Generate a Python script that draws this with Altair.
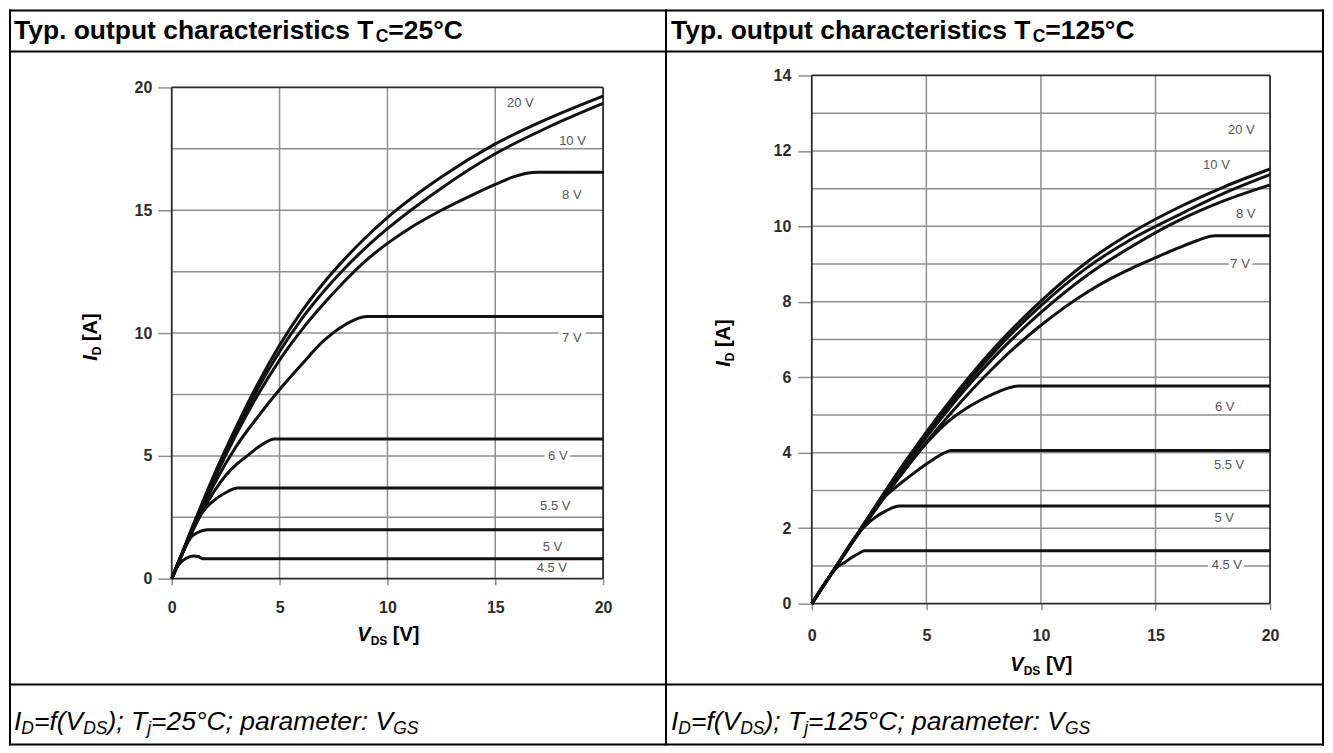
import altair as alt
import pandas as pd

FONT = "Liberation Sans"
INK = "#111111"
GRID = "#8e8e8e"
FRAME = "#2a2a2a"
TICKLAB = "#2b2b2b"
LABEL = "#555555"

# ---------------- data: T = 25 °C (V_DS [V], I_D [A]) ----------------
T25_20V_VDS = [0, 1, 2, 3, 4, 5, 6, 7, 8, 9, 10, 12.5, 15, 17.5, 20]
T25_20V_ID = [0, 2.2, 4.3, 6.2, 7.95, 9.5, 10.85, 12.0, 13.0, 13.9, 14.7, 16.35, 17.7, 18.75, 19.65]
T25_10V_VDS = [0, 1, 2, 3, 4, 5, 6, 7, 8, 9, 10, 12.5, 15, 17.5, 20]
T25_10V_ID = [0, 2.15, 4.2, 6.05, 7.75, 9.25, 10.55, 11.65, 12.62, 13.48, 14.25, 15.9, 17.3, 18.4, 19.35]
T25_8V_VDS = [0, 1, 2, 3, 4, 5, 6, 7, 8, 9, 10, 11, 12.5, 14, 15, 15.8, 16.4, 17, 20]
T25_8V_ID = [0, 2.1, 4.1, 5.9, 7.5, 8.9, 10.1, 11.15, 12.1, 12.95, 13.65, 14.25, 15.0, 15.65,
             16.05, 16.35, 16.5, 16.55, 16.55]
T25_7V_VDS = [0, 1, 2, 3, 4, 5, 6, 7, 7.5, 8, 8.5, 9.05, 20]
T25_7V_ID = [0, 2.05, 3.9, 5.4, 6.6, 7.7, 8.7, 9.65, 10.02, 10.32, 10.55, 10.67, 10.67]
T25_6V_VDS = [0, 1, 2, 2.5, 3, 3.5, 4, 4.4, 4.73, 20]
T25_6V_ID = [0, 2.0, 3.6, 4.2, 4.65, 5.0, 5.35, 5.57, 5.69, 5.69]
T25_55V_VDS = [0, 0.8, 1.2, 1.6, 2.1, 2.6, 3.04, 20]
T25_55V_ID = [0, 1.65, 2.4, 2.9, 3.28, 3.55, 3.69, 3.69]
T25_5V_VDS = [0, 0.6, 0.9, 1.2, 1.65, 20]
T25_5V_ID = [0, 1.25, 1.7, 1.88, 1.99, 1.99]
T25_45V_VDS = [0, 0.35, 0.65, 1.0, 1.25, 1.42, 20]
T25_45V_ID = [0, 0.6, 0.82, 0.92, 0.9, 0.81, 0.81]

T25_LABELS = ["20 V", "10 V", "8 V", "7 V", "6 V", "5.5 V", "5 V", "4.5 V"]
T25_LABEL_X = [16.16, 18.58, 18.55, 18.55, 17.9, 17.78, 17.65, 17.62]
T25_LABEL_Y = [19.36, 17.83, 15.64, 9.81, 5.0, 2.94, 1.31, 0.43]
T25_LABEL_ON_GRID = [False, False, False, True, True, False, False, False]

# ---------------- data: T = 125 °C ----------------
T125_20V_VDS = [0, 2, 4, 6, 8, 10, 12, 14, 16, 18, 20]
T125_20V_ID = [0, 1.86, 3.7, 5.35, 6.8, 8.02, 9.05, 9.85, 10.5, 11.05, 11.52]
T125_10V_VDS = [0, 2, 4, 6, 8, 10, 12, 14, 16, 18, 20]
T125_10V_ID = [0, 1.85, 3.66, 5.28, 6.7, 7.9, 8.9, 9.68, 10.3, 10.88, 11.37]
T125_8V_VDS = [0, 2, 4, 6, 8, 10, 12, 14, 16, 18, 20]
T125_8V_ID = [0, 1.84, 3.6, 5.18, 6.56, 7.72, 8.7, 9.48, 10.15, 10.68, 11.1]
T125_7V_VDS = [0, 2, 4, 6, 8, 10, 12, 13, 14, 15, 16, 16.8, 17.6, 20]
T125_7V_ID = [0, 1.82, 3.5, 5.0, 6.3, 7.38, 8.25, 8.6, 8.9, 9.17, 9.43, 9.62, 9.75, 9.75]
T125_6V_VDS = [0, 2, 4, 5, 6, 7, 8, 8.6, 9.05, 20]
T125_6V_ID = [0, 1.82, 3.5, 4.25, 4.85, 5.27, 5.58, 5.72, 5.77, 5.77]
T125_55V_VDS = [0, 1, 2, 3, 3.5, 4, 4.5, 5, 5.5, 5.8, 6.08, 20]
T125_55V_ID = [0, 0.93, 1.84, 2.72, 3.0, 3.25, 3.48, 3.7, 3.9, 4.0, 4.06, 4.06]
T125_5V_VDS = [0, 1, 2, 2.4, 2.8, 3.24, 3.5, 3.82, 20]
T125_5V_ID = [0, 0.93, 1.85, 2.1, 2.3, 2.46, 2.54, 2.59, 2.59]
T125_45V_VDS = [0, 0.8, 1.1, 1.45, 1.79, 2.05, 2.3, 20]
T125_45V_ID = [0, 0.74, 0.96, 1.1, 1.24, 1.33, 1.4, 1.4]

T125_LABELS = ["20 V", "10 V", "8 V", "7 V", "6 V", "5.5 V", "5 V", "4.5 V"]
T125_LABEL_X = [18.75, 17.66, 18.94, 18.69, 18.02, 18.21, 18.0, 18.11]
T125_LABEL_Y = [12.56, 11.63, 10.34, 9.01, 5.2, 3.67, 2.26, 1.02]
T125_LABEL_ON_GRID = [False, False, False, True, False, False, False, True]

X_TICKS = [0, 5, 10, 15, 20]
T25_Y_TICKS = [0, 5, 10, 15, 20]
T125_Y_TICKS = [0, 2, 4, 6, 8, 10, 12, 14]
T25_HGRID = [2.5, 5, 7.5, 10, 12.5, 15, 17.5]
T125_HGRID = [1, 2, 3, 4, 5, 6, 7, 8, 9, 10, 11, 12, 13]
VGRID = [5, 10, 15]

TITLE_25 = [("Typ. output characteristics T", 0), ("C", 1), ("=25°C", 0)]
TITLE_125 = [("Typ. output characteristics T", 0), ("C", 1), ("=125°C", 0)]
CAPTION_25 = [("I", 0), ("D", 1), ("=f(V", 0), ("DS", 1), ("); T", 0), ("j", 1),
              ("=25°C; parameter: V", 0), ("GS", 1)]
CAPTION_125 = [("I", 0), ("D", 1), ("=f(V", 0), ("DS", 1), ("); T", 0), ("j", 1),
               ("=125°C; parameter: V", 0), ("GS", 1)]


def curves_df(series):
    rows = []
    for name, xs, ys in series:
        for i, (a, b) in enumerate(zip(xs, ys)):
            rows.append({"v": name, "i": i, "vds": a, "id": b})
    return pd.DataFrame(rows)


C25 = curves_df([
    ("20 V", T25_20V_VDS, T25_20V_ID), ("10 V", T25_10V_VDS, T25_10V_ID),
    ("8 V", T25_8V_VDS, T25_8V_ID), ("7 V", T25_7V_VDS, T25_7V_ID),
    ("6 V", T25_6V_VDS, T25_6V_ID), ("5.5 V", T25_55V_VDS, T25_55V_ID),
    ("5 V", T25_5V_VDS, T25_5V_ID), ("4.5 V", T25_45V_VDS, T25_45V_ID)])
C125 = curves_df([
    ("20 V", T125_20V_VDS, T125_20V_ID), ("10 V", T125_10V_VDS, T125_10V_ID),
    ("8 V", T125_8V_VDS, T125_8V_ID), ("7 V", T125_7V_VDS, T125_7V_ID),
    ("6 V", T125_6V_VDS, T125_6V_ID), ("5.5 V", T125_55V_VDS, T125_55V_ID),
    ("5 V", T125_5V_VDS, T125_5V_ID), ("4.5 V", T125_45V_VDS, T125_45V_ID)])
L25 = pd.DataFrame({"t": T25_LABELS, "x": T25_LABEL_X, "y": T25_LABEL_Y,
                    "g": T25_LABEL_ON_GRID})
L125 = pd.DataFrame({"t": T125_LABELS, "x": T125_LABEL_X, "y": T125_LABEL_Y,
                     "g": T125_LABEL_ON_GRID})

# ---------------- text metrics (Arial / Liberation Sans, per 1000 em) ----------------
REG = {' ': 278, '(': 333, ')': 333, ';': 278, ':': 278, '=': 584, '°': 400, 'C': 722,
       'D': 722, 'G': 778, 'I': 278, 'S': 667, 'T': 611, 'V': 667, 'j': 222, 'f': 278,
       'p': 556, 'a': 556, 'r': 333, 'm': 833, 'e': 556, 't': 278, '[': 278, ']': 278, 'A': 667}
BOLD = {' ': 278, '.': 278, 'T': 611, 'y': 556, 'p': 611, 'o': 611, 'u': 611, 't': 333,
        'c': 556, 'h': 611, 'a': 556, 'r': 389, 'e': 556, 'i': 278, 's': 556, 'C': 722,
        '=': 584, '°': 400, '[': 333, ']': 333, 'V': 667, 'A': 722, 'D': 722, 'S': 667, 'I': 278}


def text_width(t, size, bold):
    tab = BOLD if bold else REG
    return sum(556 if ch.isdigit() else tab.get(ch, 556) for ch in t) * size / 1000.0


ONE = alt.Data(values=[{"k": 0}])
OX, OY = 171, 74  # page position of the left plot origin


def piece(t, px, py, size, bold, italic, angle=0):
    mk = dict(text=t, font=FONT, fontSize=size, align="left", baseline="alphabetic",
              color="#000000")
    if bold:
        mk["fontWeight"] = "bold"
    if italic:
        mk["fontStyle"] = "italic"
    if angle:
        mk["angle"] = angle
    return alt.Chart(ONE).mark_text(**mk).encode(x=alt.value(px - OX), y=alt.value(py - OY))


def run(parts, px, py, size, sub_size, sub_dy, bold, italic, center=False, rotated=False,
        italic_first_only=False):
    widths = []
    for t, is_sub in parts:
        widths.append(text_width(t, sub_size if is_sub else size, bold))
    total = sum(widths)
    layers = []
    pos = (px - total / 2.0) if (center and not rotated) else px
    if rotated:
        pos = py + total / 2.0
    for k, ((t, is_sub), w) in enumerate(zip(parts, widths)):
        s = sub_size if is_sub else size
        lead = len(t) - len(t.lstrip(" "))
        shift = lead * (BOLD if bold else REG)[' '] * s / 1000.0
        it = italic if not italic_first_only else (k == 0)
        if rotated:
            layers.append(piece(t.lstrip(" "), px + (sub_dy if is_sub else 0), pos - shift,
                                s, bold, it, angle=270))
            pos -= w
        else:
            layers.append(piece(t.lstrip(" "), pos + shift, py + (sub_dy if is_sub else 0),
                                s, bold, it))
            pos += w
    return layers


def hline(y, x1, x2, w=2):
    return alt.Chart(ONE).mark_rule(color="#000000", strokeWidth=w).encode(
        x=alt.value(x1 - OX), x2=alt.value(x2 - OX), y=alt.value(y - OY))


def vline(x, y1, y2, w=2):
    return alt.Chart(ONE).mark_rule(color="#000000", strokeWidth=w).encode(
        x=alt.value(x - OX), y=alt.value(y1 - OY), y2=alt.value(y2 - OY))


decor = [
    hline(9, 8, 1325), hline(744, 8, 1325), vline(9, 8, 745), vline(1324, 8, 745),
    hline(50, 8, 1325), hline(684, 8, 1325), vline(666, 8, 745),
]
decor += run(TITLE_25, 13, 37, 26.5, 17.5, 3, True, False)
decor += run(TITLE_125, 671, 37, 26.5, 17.5, 3, True, False)
decor += run(CAPTION_25, 13, 730, 26.5, 17.5, 4, False, True)
decor += run(CAPTION_125, 671, 730, 26.5, 17.5, 4, False, True)
XT = [("V", 0), ("DS", 1), (" [V]", 0)]
YT = [("I", 0), ("D", 1), (" [A]", 0)]
decor += run(XT, 388, 640, 20, 12, 4, True, True, center=True, italic_first_only=True)
decor += run(XT, 1042, 670, 20, 12, 4, True, True, center=True, italic_first_only=True)
decor += run(YT, 96, 336, 20, 12, 4, True, True, rotated=True, italic_first_only=True)
decor += run(YT, 730, 342, 20, 12, 4, True, True, rotated=True, italic_first_only=True)


def panel(curves, labels, hgrid, ytop, ydom, yticks, W, H, ylabpad, xlabpad, extra):
    xs = alt.Scale(domain=[0, 20], nice=False, zero=False)
    ys = alt.Scale(domain=[0, ydom], nice=False, zero=False)
    ax = alt.Axis(values=X_TICKS, title=None, grid=False, domain=False, ticks=True,
                  tickSize=6, tickWidth=1.5, tickColor=GRID, labelFont=FONT,
                  labelFontSize=16, labelFontWeight="bold", labelColor=TICKLAB,
                  labelPadding=xlabpad, labelFlush=False, labelOverlap=False, format="d")
    ay = alt.Axis(values=yticks, title=None, grid=False, domain=False, ticks=True,
                  tickSize=14, tickWidth=1.5, tickColor=GRID, labelFont=FONT,
                  labelFontSize=16, labelFontWeight="bold", labelColor=TICKLAB,
                  labelPadding=ylabpad, labelFlush=False, labelOverlap=False, format="d")

    def X(f):
        return alt.X(f, type="quantitative", scale=xs, axis=ax)

    def Y(f):
        return alt.Y(f, type="quantitative", scale=ys, axis=ay)

    vg = pd.DataFrame({"x": VGRID, "y0": 0.0, "y1": ytop})
    hg = pd.DataFrame({"y": hgrid, "x0": 0.0, "x1": 20.0})
    vf = pd.DataFrame({"x": [0.0, 20.0], "y0": 0.0, "y1": ytop})
    hf = pd.DataFrame({"y": [0.0, ytop], "x0": 0.0, "x1": 20.0})
    gv = alt.Chart(vg).mark_rule(color=GRID, strokeWidth=1.5).encode(
        x=X("x"), y=Y("y0"), y2=alt.Y2("y1"))
    gh = alt.Chart(hg).mark_rule(color=GRID, strokeWidth=1.5).encode(
        y=Y("y"), x=X("x0"), x2=alt.X2("x1"))
    fv = alt.Chart(vf).mark_rule(color=FRAME, strokeWidth=1.8).encode(
        x=X("x"), y=Y("y0"), y2=alt.Y2("y1"))
    fh = alt.Chart(hf).mark_rule(color=FRAME, strokeWidth=1.8).encode(
        y=Y("y"), x=X("x0"), x2=alt.X2("x1"))
    ln = alt.Chart(curves).mark_line(color=INK, strokeWidth=3, interpolate="monotone",
                                     strokeJoin="round").encode(
        x=X("vds"), y=Y("id"), detail="v:N", order="i:Q")
    halo_df = labels[labels["g"]][["t", "x", "y"]]
    halo = alt.Chart(halo_df).mark_text(font=FONT, fontSize=13, color="#ffffff",
                                        stroke="#ffffff", strokeWidth=8, strokeJoin="round",
                                        align="center", baseline="middle").encode(
        x=X("x"), y=Y("y"), text="t:N")
    txt = alt.Chart(labels[["t", "x", "y"]]).mark_text(
        font=FONT, fontSize=13, color=LABEL, align="center", baseline="middle").encode(
        x=X("x"), y=Y("y"), text="t:N")
    return alt.layer(gv, gh, fv, fh, ln, halo, txt, *extra).properties(width=W, height=H)


left = panel(C25, L25, T25_HGRID, 20.0, 504 / 24.6, T25_Y_TICKS, 432, 504, 6, 15, decor)
right = panel(C125, L125, T125_HGRID, 14.0, 14.0, T125_Y_TICKS, 459, 529, 7, 18, [])

chart = alt.hconcat(left, right, spacing=209, bounds="flush").properties(
    padding=0).configure_view(stroke=None)

chart.save("out.html", embed_options={"renderer": "svg", "actions": False})
